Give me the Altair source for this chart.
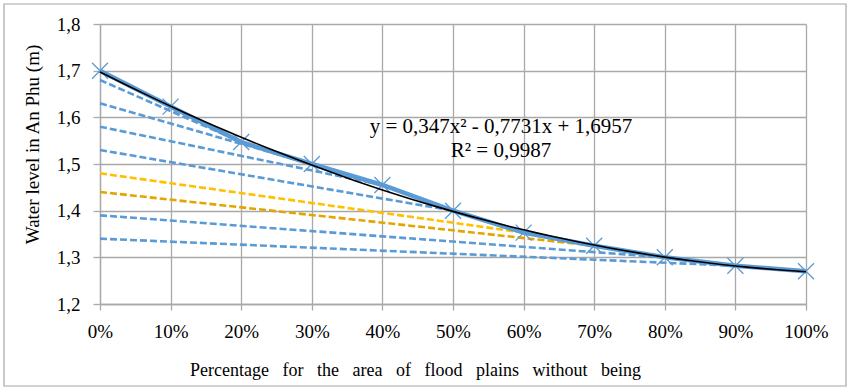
import altair as alt
import pandas as pd

# ---- data ----
pct = [0.0, 0.1, 0.2, 0.3, 0.4, 0.5, 0.6, 0.7, 0.8, 0.9, 1.0]
water_level = [1.70, 1.623, 1.547, 1.50, 1.455, 1.40, 1.353, 1.325, 1.30, 1.282, 1.27]

# dashed scenario lines: start level at 0 % and index of the point where they join the curve
dash_start = [1.68, 1.63, 1.58, 1.53, 1.48, 1.44, 1.39, 1.34]
dash_end_idx = [2, 3, 4, 5, 6, 7, 8, 9]
dash_colors = ["#5B9BD5", "#5B9BD5", "#5B9BD5", "#5B9BD5", "#FFC000", "#E3A600", "#5B9BD5", "#5B9BD5"]

y_ticks = [1.2, 1.3, 1.4, 1.5, 1.6, 1.7, 1.8]
x_ticks = pct

eq_lines = ["y = 0,347x² - 0,7731x + 1,6957", "R² = 0,9987"]
eq_x = [0.568, 0.568]
eq_y = [1.567, 1.515]

x_title = "\u00a0\u00a0\u00a0".join(
    ["Percentage", "for", "the", "area", "of", "flood", "plains", "without", "being"])
y_title = "Water level in An Phu (m)"

FONT = "Liberation Serif"
GRID = "#A9A9A9"
BLUE = "#5B9BD5"

# ---- tables ----
main_df = pd.DataFrame({"x": pct, "y": water_level})

rows = []
for i, (s, e) in enumerate(zip(dash_start, dash_end_idx)):
    rows.append({"line": f"L{i}", "x": 0.0, "y": s})
    rows.append({"line": f"L{i}", "x": pct[e], "y": water_level[e]})
dash_df = pd.DataFrame(rows)
line_ids = [f"L{i}" for i in range(len(dash_start))]

eq_df = pd.DataFrame({"x": eq_x, "y": eq_y, "label": eq_lines})

xscale = alt.Scale(domain=[0, 1], nice=False, zero=False)
yscale = alt.Scale(domain=[1.2, 1.8], nice=False, zero=False)

x_axis = alt.Axis(
    values=x_ticks, format=".0%", labelFlush=False,
    labelFont=FONT, labelFontSize=19, labelColor="black", labelPadding=12,
    tickColor=GRID, tickSize=6, tickWidth=1.3,
    domainColor=GRID, domainWidth=1.3,
    grid=True, gridColor=GRID, gridWidth=1.3,
    title=x_title, titleFont=FONT, titleFontSize=18, titleFontWeight="normal",
    titleColor="black", titleX=315, titleY=71, titleAlign="center",
    titleBaseline="alphabetic",
)
y_axis = alt.Axis(
    values=y_ticks, labelExpr="replace(format(datum.value, '.1f'), '.', ',')",
    labelFont=FONT, labelFontSize=19, labelColor="black", labelPadding=13,
    tickColor=GRID, tickSize=7, tickWidth=1.3,
    domainColor=GRID, domainWidth=1.3,
    grid=True, gridColor=GRID, gridWidth=1.3,
    title=y_title, titleFont=FONT, titleFontSize=19, titleFontWeight="normal",
    titleColor="black", titleAngle=270, titleX=-68, titleY=120,
    titleAlign="center", titleBaseline="middle",
)

base = alt.Chart(main_df)

dashed = alt.Chart(dash_df).mark_line(strokeWidth=2.6, strokeDash=[7, 3]).encode(
    x=alt.X("x:Q", scale=xscale, axis=x_axis),
    y=alt.Y("y:Q", scale=yscale, axis=y_axis),
    color=alt.Color("line:N", scale=alt.Scale(domain=line_ids, range=dash_colors), legend=None),
    detail="line:N",
)

main_line = base.mark_line(color=BLUE, strokeWidth=4.5).encode(
    x=alt.X("x:Q", scale=xscale), y=alt.Y("y:Q", scale=yscale))

markers = base.mark_point(
    shape="M-1,-1L1,1M-1,1L1,-1", size=256, filled=False, color=BLUE,
    strokeWidth=1.3, opacity=1,
).encode(x=alt.X("x:Q", scale=xscale), y=alt.Y("y:Q", scale=yscale))

trend = base.transform_regression(
    "x", "y", method="poly", order=2, extent=[0, 1]
).mark_line(color="black", strokeWidth=1.6).encode(
    x=alt.X("x:Q", scale=xscale), y=alt.Y("y:Q", scale=yscale))

eq_text = alt.Chart(eq_df).mark_text(
    font=FONT, fontSize=21, color="black", align="center", baseline="alphabetic"
).encode(x=alt.X("x:Q", scale=xscale), y=alt.Y("y:Q", scale=yscale), text="label:N")

border = alt.Chart(pd.DataFrame({"b": [0]})).mark_rect(
    fillOpacity=0, stroke="#A6A6A6", strokeWidth=1.2
).encode(x=alt.value(-96), x2=alt.value(746), y=alt.value(-20), y2=alt.value(362))

chart = alt.layer(dashed, main_line, markers, trend, eq_text, border).properties(
    width=706, height=280,
    autosize=alt.AutoSizeParams(type="none"),
    padding={"left": 100, "top": 24, "right": 43, "bottom": 86},
    background="white",
).configure_view(stroke=None)

chart.save("out.html", embed_options={"renderer": "svg", "actions": False})
